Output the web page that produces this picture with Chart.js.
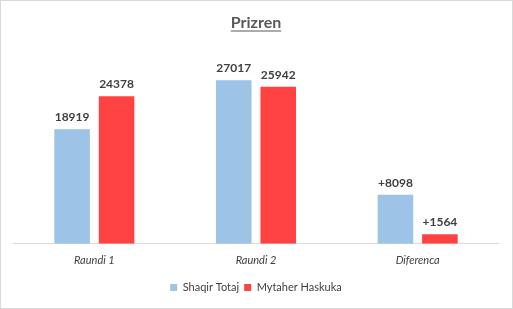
<!DOCTYPE html>
<html>
<head>
<meta charset="utf-8">
<script src="https://cdn.jsdelivr.net/npm/chart.js@4/dist/chart.umd.min.js"></script>
<style>
  html, body { margin: 0; padding: 0; background: #fff; }
  #wrap { position: relative; width: 511px; height: 307px; border: 1px solid #d9d9d9; }
</style>
</head>
<body>
<div id="wrap"><canvas id="c" width="511" height="307"></canvas></div>
<script>
const categories = ["Raundi 1", "Raundi 2", "Diferenca"];
const seriesNames = ["Shaqir Totaj", "Mytaher Haskuka"];
const shaqirValues = [18919, 27017, 8098];
const mytaherValues = [24378, 25942, 1564];
const shaqirLabels = ["18919", "27017", "+8098"];
const mytaherLabels = ["24378", "25942", "+1564"];

const FONT = "Lato, 'Open Sans', 'DejaVu Sans', sans-serif";

const valueLabels = {
  id: 'valueLabels',
  afterDatasetsDraw(chart) {
    const ctx = chart.ctx;
    ctx.save();
    ctx.font = "bold 12px " + FONT;
    ctx.fillStyle = "#404040";
    ctx.textAlign = "center";
    ctx.textBaseline = "bottom";
    chart.data.datasets.forEach((ds, i) => {
      const meta = chart.getDatasetMeta(i);
      meta.data.forEach((bar, j) => {
        ctx.fillText(ds.labelsText[j], bar.x, bar.y - 6);
      });
    });
    ctx.restore();
  }
};

const titleUnderline = {
  id: 'titleUnderline',
  afterDraw(chart) {
    const tb = chart.titleBlock;
    if (!tb) return;
    const ctx = chart.ctx;
    ctx.save();
    ctx.font = "bold 16px " + FONT;
    const text = chart.options.plugins.title.text;
    const w = ctx.measureText(text).width;
    const cx = tb.left + tb.width / 2;
    const y = tb.top + tb.options.padding.top + 17.5;
    ctx.strokeStyle = "#595959";
    ctx.lineWidth = 1;
    ctx.beginPath();
    ctx.moveTo(cx - w / 2, y + 0.5);
    ctx.lineTo(cx + w / 2, y + 0.5);
    ctx.stroke();
    ctx.restore();
  }
};

new Chart(document.getElementById('c'), {
  type: 'bar',
  data: {
    labels: categories,
    datasets: [
      { label: seriesNames[0], data: shaqirValues, labelsText: shaqirLabels, backgroundColor: "#9DC3E6" },
      { label: seriesNames[1], data: mytaherValues, labelsText: mytaherLabels, backgroundColor: "#FF4343" }
    ]
  },
  options: {
    responsive: false,
    animation: false,
    devicePixelRatio: 1,
    layout: { padding: { left: 12.5, right: 13.5, top: 0, bottom: 5 } },
    datasets: { bar: { categoryPercentage: 0.55, barPercentage: 0.8 } },
    scales: {
      x: {
        grid: { display: false, drawTicks: false },
        border: { color: "#d9d9d9" },
        ticks: { color: "#404040", font: { family: FONT, size: 11, style: "italic" }, padding: 10 }
      },
      y: { display: false, min: 0, max: 30000 }
    },
    plugins: {
      title: {
        display: true,
        text: "Prizren",
        color: "#595959",
        font: { family: FONT, size: 16, weight: "bold" },
        padding: { top: 12, bottom: 30 }
      },
      legend: {
        position: "bottom",
        labels: {
          color: "#404040",
          font: { family: FONT, size: 11 },
          boxWidth: 7, boxHeight: 7, padding: 5
        }
      },
      tooltip: { enabled: false }
    }
  },
  plugins: [valueLabels, titleUnderline]
});
</script>
</body>
</html>
